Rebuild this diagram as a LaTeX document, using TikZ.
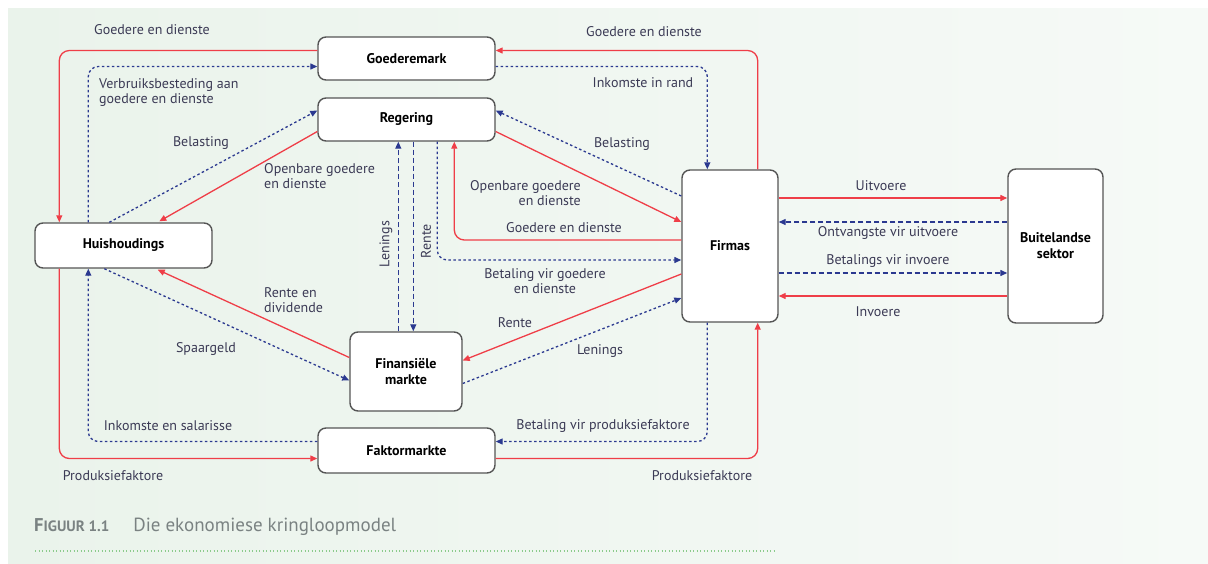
\documentclass[tikz,border=0pt]{standalone}
\usepackage{fontspec}
\setmainfont{PT Sans}
\usetikzlibrary{arrows.meta,calc}
\definecolor{rooi}{HTML}{EF3E48}
\definecolor{blou}{HTML}{2B3990}
\definecolor{teks}{HTML}{3B3A55}
\definecolor{rand}{HTML}{555555}
\definecolor{agter1}{HTML}{EAF3EB}
\definecolor{agter2}{HTML}{F6FAF7}
\definecolor{opskrif}{HTML}{7A8282}
\definecolor{groen}{HTML}{8CCB8C}

\begin{document}
\begin{tikzpicture}[x=1pt,y=-1pt,
  box/.style={draw=rand,line width=1.4pt,rounded corners=8pt,fill=white,
              font=\fontsize{14}{16}\selectfont\bfseries,align=center,inner sep=0pt},
  lbl/.style={font=\fontsize{14}{15}\selectfont,text=teks,align=center,inner sep=1pt},
  goed/.style={-{Triangle[length=7pt,width=6pt]},line width=1.3pt,rooi,rounded corners=10pt},
  geld/.style={-{Triangle[length=7pt,width=6pt]},line width=1.3pt,blou,
               dash pattern=on 2.5pt off 2.5pt,rounded corners=10pt},
  lyn/.style={-{Triangle[length=7pt,width=6pt]},line width=1.3pt,blou,dash pattern=on 5pt off 3pt}
]
  \useasboundingbox (0,0) rectangle (1208,563);
  \fill[left color=agter1,right color=agter2] (8,8) rectangle (1208,563);

  % sektore
  \node[box,minimum width=177pt,minimum height=43pt] (gm)  at (406.5,58.5)  {Goederemark};
  \node[box,minimum width=177pt,minimum height=43pt] (reg) at (406.5,119.5) {Regering};
  \node[box,minimum width=177pt,minimum height=45pt] (hh)  at (123.5,245.5) {Huishoudings};
  \node[box,minimum width=112pt,minimum height=79pt] (fin) at (406,371.5)   {Finansiële\\markte};
  \node[box,minimum width=177pt,minimum height=45pt] (fak) at (406.5,450.5) {Faktormarkte};
  \node[box,minimum width=96pt,minimum height=152pt] (fir) at (730,246)     {Firmas};
  \node[box,minimum width=95pt,minimum height=154pt] (bs)  at (1055.5,246)  {Buitelandse\\sektor};

  % huishoudings en goederemark
  \draw[goed] ($(gm.west)+(0,-8)$) -| ($(hh.north west)+(25,0)$);
  \draw[geld] ($(hh.north west)+(54,0)$) |- ($(gm.west)+(0,8)$);
  \node[lbl] (l1) at (152,30) {Goedere en dienste};
  \node[lbl,align=left,anchor=west] (l2) at (98,93) {Verbruiksbesteding aan\\goedere en dienste};

  % huishoudings en regering
  \draw[geld] ($(hh.north west)+(75,0)$) -- ($(reg.west)+(0,-9)$);
  \draw[goed] ($(reg.west)+(0,12)$) -- ($(hh.north west)+(125,-1)$);
  \node[lbl] (l3) at (201,143) {Belasting};
  \node[lbl,align=left,anchor=west] (l4) at (263,176) {Openbare goedere\\en dienste};

  % firmas en goederemark
  \draw[goed] ($(fir.north east)+(-21,0)$) |- ($(gm.east)+(0,-8)$);
  \draw[geld] ($(gm.east)+(0,8)$) -| ($(fir.north west)+(26,0)$);
  \node[lbl] (l5) at (644,32) {Goedere en dienste};
  \node[lbl] (l6) at (643,83) {Inkomste in rand};

  % firmas en regering
  \draw[geld] ($(fir.west)+(0,-50)$) -- ($(reg.east)+(0,-9)$);
  \draw[goed] ($(reg.east)+(0,12)$) -- ($(fir.west)+(0,-24)$);
  \draw[goed] ($(fir.west)+(0,-6)$) -| ($(reg.south west)+(137,0)$);
  \draw[geld] ($(reg.south west)+(120,0)$) |- ($(fir.west)+(0,14)$);
  \node[lbl] (l7) at (622,144) {Belasting};
  \node[lbl,align=right,anchor=east] (l8) at (582,193) {Openbare goedere\\en dienste};
  \node[lbl] (l9) at (564,228) {Goedere en dienste};
  \node[lbl] (l10) at (545,281) {Betaling vir goedere\\en dienste};

  % regering en finansiele markte
  \draw[lyn] ($(fin.north west)+(49,0)$) -- ($(reg.south west)+(81,0)$);
  \draw[lyn] ($(reg.south west)+(96,0)$) -- ($(fin.north west)+(64,0)$);
  \node[lbl,rotate=90] (l11) at (386,244) {Lenings};
  \node[lbl,rotate=90] (l12) at (426,241) {Rente};

  % firmas en finansiele markte
  \draw[goed] ($(fir.west)+(0,28)$) -- ($(fin.east)+(0,-11)$);
  \draw[geld] ($(fin.east)+(0,12)$) -- ($(fir.west)+(0,52)$);
  \node[lbl] (l13) at (515,323) {Rente};
  \node[lbl] (l14) at (600,351) {Lenings};

  % huishoudings en finansiele markte
  \draw[goed] ($(fin.west)+(0,-14)$) -- ($(hh.south east)+(-55,1)$);
  \draw[geld] ($(hh.south west)+(70,0)$) -- ($(fin.west)+(0,9)$);
  \node[lbl,align=left,anchor=west] (l15) at (263,300) {Rente en\\dividende};
  \node[lbl] (l16) at (206,349) {Spaargeld};

  % faktormarkte
  \draw[goed] ($(hh.south west)+(25,0)$) |- ($(fak.west)+(0,8)$);
  \draw[geld] ($(fak.west)+(0,-9)$) -| ($(hh.south west)+(54,0)$);
  \draw[geld] ($(fir.south west)+(26,0)$) |- ($(fak.east)+(0,-9)$);
  \draw[goed] ($(fak.east)+(0,8)$) -| ($(fir.south east)+(-21,0)$);
  \node[lbl] (l17) at (168,426) {Inkomste en salarisse};
  \node[lbl] (l18) at (113,476) {Produksiefaktore};
  \node[lbl] (l19) at (603,426) {Betaling vir produksiefaktore};
  \node[lbl] (l20) at (702,476) {Produksiefaktore};

  % buitelandse sektor
  \draw[goed] ($(fir.east)+(0,-48)$) -- ($(bs.west)+(0,-48)$);
  \draw[lyn]  ($(bs.west)+(0,-24)$) -- ($(fir.east)+(0,-24)$);
  \draw[lyn]  ($(fir.east)+(0,27)$) -- ($(bs.west)+(0,27)$);
  \draw[goed] ($(bs.west)+(0,50)$) -- ($(fir.east)+(0,50)$);
  \node[lbl] (l21) at (881,186) {Uitvoere};
  \node[lbl] (l22) at (888,233) {Ontvangste vir uitvoere};
  \node[lbl] (l23) at (888,261) {Betalings vir invoere};
  \node[lbl] (l24) at (878,312) {Invoere};

  % onderskrif
  \node[anchor=west,text=opskrif,inner sep=0pt] (cap) at (34,527)
    {{\fontsize{18.5}{20}\selectfont\bfseries F\fontsize{15}{17}\selectfont IGUUR 1.1}\hspace{24pt}%
     {\fontsize{19}{21}\selectfont Die ekonomiese kringloopmodel}};
  \draw[groen,line width=1.2pt,dash pattern=on 1.2pt off 2.3pt] (35,551) -- (775,551);
\end{tikzpicture}
\end{document}
